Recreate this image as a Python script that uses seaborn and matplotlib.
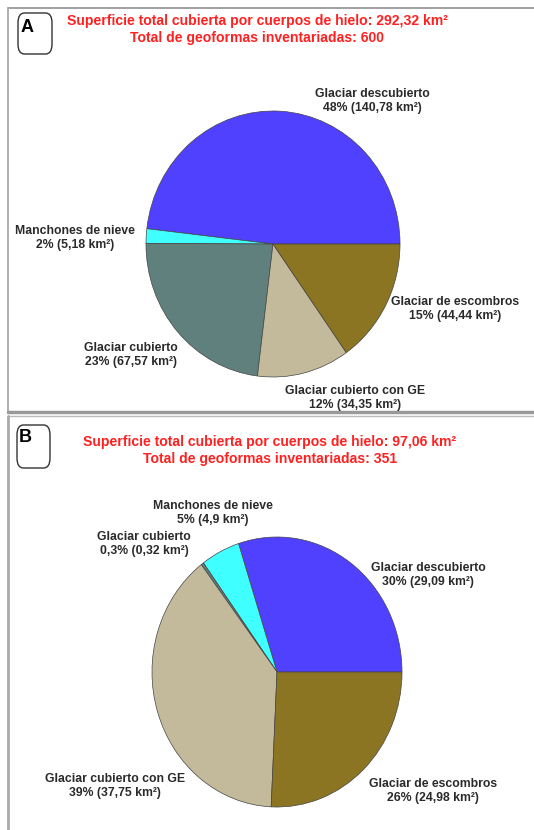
import matplotlib.pyplot as plt
import seaborn as sns
from matplotlib.patches import FancyBboxPatch

sns.set_theme(style="white")
plt.rcParams['font.family'] = ['Liberation Sans', 'DejaVu Sans']

categories = ['Glaciar descubierto', 'Manchones de nieve', 'Glaciar cubierto',
              'Glaciar cubierto con GE', 'Glaciar de escombros']
area_a = [140.78, 5.18, 67.57, 34.35, 44.44]
pct_a = ['48%', '2%', '23%', '12%', '15%']
area_b = [29.09, 4.9, 0.32, 37.75, 24.98]
pct_b = ['30%', '5%', '0,3%', '39%', '26%']
titles_a = ['Superficie total cubierta por cuerpos de hielo: 292,32 km²',
            'Total de geoformas inventariadas: 600']
titles_b = ['Superficie total cubierta por cuerpos de hielo: 97,06 km²',
            'Total de geoformas inventariadas: 351']

colors = ['#5040FF', '#40FFFF', '#5F807C', '#C3B99B', '#8B7522']

W, H = 534, 830
fig = plt.figure(figsize=(W / 100, H / 100), dpi=100)


def fx(x):
    return x / W


def fy(y):
    return 1 - y / H


def panel(cx, cy, rx, ry, values, pcts, titles, title_y, title_x, letter, box, letter_xy, label_pos):
    ax = fig.add_axes([fx(cx - rx), fy(cy + ry), 2 * rx / W, 2 * ry / H])
    ax.pie(values, colors=colors, startangle=0, counterclock=True,
           wedgeprops=dict(edgecolor='#444444', linewidth=0.5))
    ax.set_aspect('auto')
    ax.set_xlim(-1, 1)
    ax.set_ylim(-1, 1)
    ax.axis('off')
    # labels
    for name, val, p, (lx, ly) in zip(categories, values, pcts, label_pos):
        txt = f"{name}\n{p} ({str(val).replace('.', ',')} km²)"
        fig.text(fx(lx), fy(ly), txt, ha='center', va='center', fontsize=8.8,
                 fontweight='bold', color='#2a2a2a', linespacing=1.2)
    # titles
    for t, y in zip(titles, title_y):
        fig.text(fx(title_x), fy(y), t, ha='center', va='center', fontsize=10.1,
                 fontweight='bold', color='#FF2020')
    # letter box
    bx, by, bw, bh = box
    fig.patches.append(FancyBboxPatch((fx(bx), fy(by + bh)), bw / W, bh / H,
                                      boxstyle='round,pad=0,rounding_size=0.012',
                                      transform=fig.transFigure, facecolor='white',
                                      edgecolor='#333333', linewidth=1.0))
    fig.text(fx(letter_xy[0]), fy(letter_xy[1]), letter, ha='center', va='center',
             fontsize=13, fontweight='bold', color='black')


# panel frames
fig.add_artist(plt.Line2D([fx(8), fx(534)], [fy(8), fy(8)], color='#999999', lw=1.3))
fig.add_artist(plt.Line2D([fx(8), fx(8)], [fy(8), fy(413)], color='#aaaaaa', lw=1.3))
fig.add_artist(plt.Line2D([fx(8), fx(534)], [fy(412), fy(412)], color='#999999', lw=2.5))
fig.add_artist(plt.Line2D([fx(8), fx(534)], [fy(416), fy(416)], color='#bbbbbb', lw=1.0))
fig.add_artist(plt.Line2D([fx(8), fx(8)], [fy(416), fy(830)], color='#aaaaaa', lw=2.0))

panel(273, 244, 127, 133, area_a, pct_a, titles_a, [21, 38], 257, 'A',
      (18, 13, 34, 41), (27, 28),
      [(372, 101), (75, 238), (131, 355), (355, 398), (455, 309)])

panel(277, 672, 125, 135, area_b, pct_b, titles_b, [442, 459], 270, 'B',
      (17, 425, 33, 43), (25, 437),
      [(428, 575), (213, 513), (144, 544), (115, 786), (433, 791)])

fig.savefig('out.png', dpi=100, facecolor='white')
